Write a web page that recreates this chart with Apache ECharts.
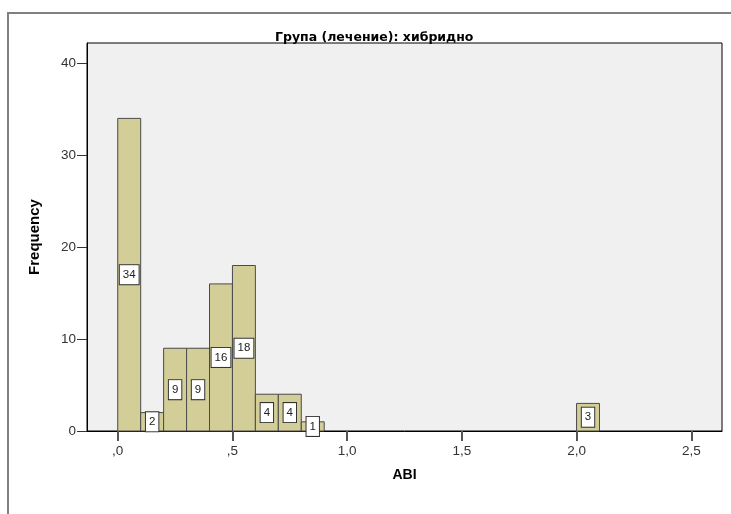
<!DOCTYPE html>
<html>
<head>
<meta charset="utf-8">
<script src="https://cdn.jsdelivr.net/npm/echarts@6/dist/echarts.min.js"></script>
<style>html,body{margin:0;padding:0;background:#fff}#c{width:731px;height:514px}</style>
</head>
<body>
<div id="c"></div>
<script>
var binStarts = [0.0, 0.1, 0.2, 0.3, 0.4, 0.5, 0.6, 0.7, 0.8, 2.0];
var binEnds   = [0.1, 0.2, 0.3, 0.4, 0.5, 0.6, 0.7, 0.8, 0.9, 2.1];
var counts    = [34, 2, 9, 9, 16, 18, 4, 4, 1, 3];
var xTicks = [0, 0.5, 1.0, 1.5, 2.0, 2.5];
var yTicks = [0, 10, 20, 30, 40];
var titleText = 'Група (лечение): хибридно';
var xName = 'ABI';
var yName = 'Frequency';

var data = binStarts.map(function (s, i) { return [s, binEnds[i], counts[i]]; });
var FONT = '"Liberation Sans", Arial, sans-serif';

function fmtX(v) {
  var s = (Math.round(v * 10) / 10).toFixed(1).replace('.', ',');
  if (s.indexOf('0,') === 0) s = s.substring(1);
  return s;
}

var chart = echarts.init(document.getElementById('c'), null, {renderer: 'canvas'});
chart.setOption({
  animation: false,
  backgroundColor: '#ffffff',
  graphic: [
    {type: 'rect', shape: {x: 8, y: 13, width: 760, height: 540}, style: {fill: 'none', stroke: '#808080', lineWidth: 2}, z: 0}
  ],
  title: {
    text: titleText,
    left: 270, top: 26,
    textStyle: {fontFamily: '"DejaVu Sans", sans-serif', fontSize: 12.5, fontWeight: 'bold', color: '#000'}
  },
  grid: {left: 87, right: 9, top: 43, bottom: 83, show: true, backgroundColor: '#f0f0f0', borderColor: '#000', borderWidth: 1},
  xAxis: {
    type: 'value', min: -0.134, max: 2.634,
    name: xName, nameLocation: 'middle', nameGap: 37,
    nameTextStyle: {fontFamily: FONT, fontSize: 14, fontWeight: 'bold', color: '#000'},
    axisLine: {show: true, onZero: false, lineStyle: {color: '#000', width: 1}},
    axisTick: {show: true, customValues: xTicks, length: 10, lineStyle: {color: '#555', width: 2}},
    axisLabel: {customValues: xTicks, formatter: fmtX, margin: 13, fontFamily: FONT, fontSize: 13.5, color: '#333'},
    splitLine: {show: false}
  },
  yAxis: {
    type: 'value', min: 0, max: 42.2,
    name: yName, nameLocation: 'middle', nameGap: 45, nameRotate: 90,
    nameTextStyle: {fontFamily: FONT, fontSize: 15, fontWeight: 'bold', color: '#000'},
    axisLine: {show: true, onZero: false, lineStyle: {color: '#000', width: 1}},
    axisTick: {show: true, customValues: yTicks, length: 10, lineStyle: {color: '#333', width: 1}},
    axisLabel: {customValues: yTicks, margin: 11, fontFamily: FONT, fontSize: 13.5, color: '#333'},
    splitLine: {show: false}
  },
  series: [{
    type: 'custom',
    data: data,
    encode: {x: [0, 1], y: 2},
    clip: false,
    renderItem: function (params, api) {
      var x0 = api.value(0), x1 = api.value(1), n = api.value(2);
      var p0 = api.coord([x0, n]);
      var p1 = api.coord([x1, 0]);
      var pm = api.coord([(x0 + x1) / 2, n / 2]);
      return {
        type: 'group',
        children: [
          {type: 'rect', shape: {x: p0[0], y: p0[1], width: p1[0] - p0[0], height: p1[1] - p0[1]},
           style: {fill: '#d3ce97', stroke: '#4a4a4a', lineWidth: 1}},
          {type: 'text', x: pm[0], y: pm[1],
           style: {text: String(n), align: 'center', verticalAlign: 'middle',
                   font: '11.5px ' + FONT, fill: '#222',
                   backgroundColor: '#fff', borderColor: '#333', borderWidth: 1, padding: [4, 3, 3, 3]}}
        ]
      };
    }
  }]
});
</script>
</body>
</html>
